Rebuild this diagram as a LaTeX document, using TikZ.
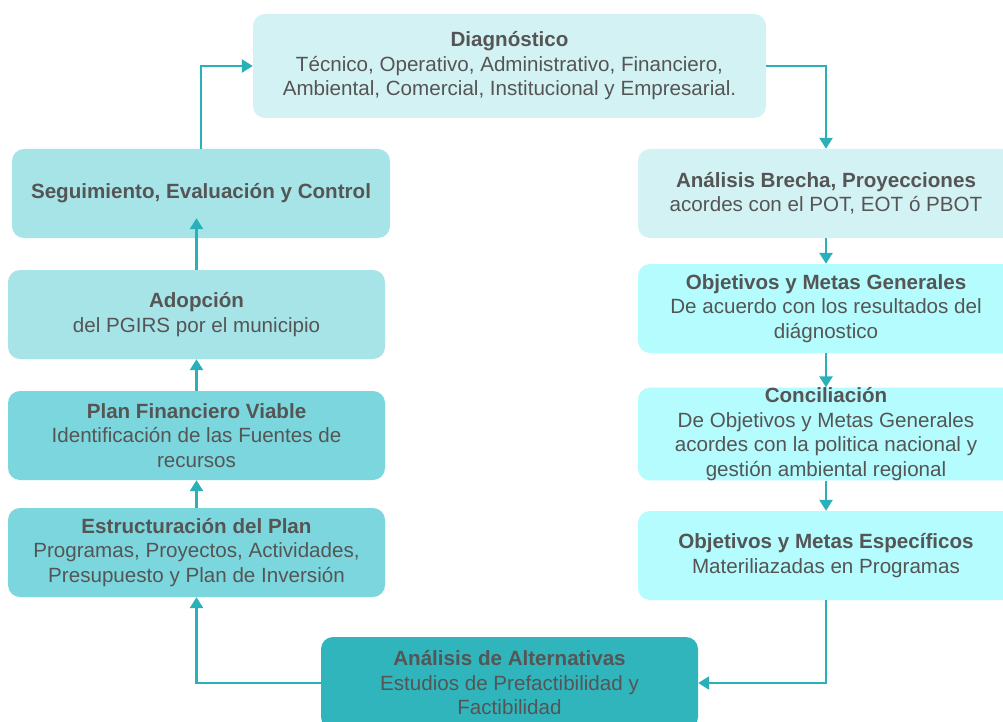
\documentclass[tikz,border=0pt]{standalone}
\usepackage{fontspec}
\setmainfont{Liberation Sans}
\usetikzlibrary{arrows.meta}
\definecolor{txt}{HTML}{555555}
\definecolor{cA}{HTML}{D3F2F4}
\definecolor{cB}{HTML}{A7E4E8}
\definecolor{cC}{HTML}{7BD7DD}
\definecolor{cD}{HTML}{B4FCFD}
\definecolor{cE}{HTML}{30B5BD}
\definecolor{arr}{HTML}{2AB0B8}
\tikzset{
  box/.style={rectangle, rounded corners=12pt, draw=none, align=center,
    text=txt, font=\fontsize{20.6}{24.5}\selectfont, inner sep=0pt},
  conn/.style={draw=arr, line width=2.5pt, -{Triangle[width=13pt,length=11pt]}},
}
\begin{document}
\begin{tikzpicture}[x=1pt,y=-1pt]
\useasboundingbox (0,0) rectangle (1003,722);
\fill[white] (0,0) rectangle (1003,722);
% boxes
\node[box, fill=cA, minimum width=513pt, minimum height=104pt] (diag) at (509.5,66)
  {\textbf{Diagnóstico}\\Técnico, Operativo, Administrativo, Financiero,\\Ambiental, Comercial, Institucional y Empresarial.};
\node[box, fill=cB, minimum width=378pt, minimum height=89pt] (seg) at (201,193.5)
  {\textbf{Seguimiento, Evaluación y Control}};
\node[box, fill=cB, minimum width=377pt, minimum height=89pt] (adop) at (196.5,314.5)
  {\textbf{Adopción}\\del PGIRS por el municipio};
\node[box, fill=cC, minimum width=377pt, minimum height=89pt] (pf) at (196.5,435.5)
  {\textbf{Plan Financiero Viable}\\Identificación de las Fuentes de\\recursos};
\node[box, fill=cC, minimum width=377pt, minimum height=89pt] (est) at (196.5,552.5)
  {\textbf{Estructuración del Plan}\\Programas, Proyectos, Actividades,\\Presupuesto y Plan de Inversión};
\node[box, fill=cA, minimum width=376pt, minimum height=89pt] (brecha) at (826,193.5)
  {\textbf{Análisis Brecha, Proyecciones}\\acordes con el POT, EOT ó PBOT};
\node[box, fill=cD, minimum width=376pt, minimum height=89pt] (gen) at (826,308.5)
  {\textbf{Objetivos y Metas Generales}\\De acuerdo con los resultados del\\diágnostico};
\node[box, fill=cD, minimum width=376pt, minimum height=88pt] (conc) at (826,434)
  {\textbf{Conciliación}\\De Objetivos y Metas Generales\\acordes con la politica nacional y\\gestión ambiental regional};
\node[box, fill=cD, minimum width=376pt, minimum height=89pt] (esp) at (826,555.5)
  {\textbf{Objetivos y Metas Específicos}\\Materiliazadas en Programas};
\node[box, fill=cE, minimum width=377pt, minimum height=92pt] (alt) at (509.5,683)
  {\textbf{Análisis de Alternativas}\\Estudios de Prefactibilidad y\\Factibilidad};
% connectors
\path (seg.south) ++(0,-20) coordinate (segin);
\draw[conn] (seg.north) |- (diag.west);
\draw[conn] (diag.east) -| (brecha.north);
\draw[conn] (brecha.south) -- (gen.north);
\draw[conn] (gen.south) -- (conc.north);
\draw[conn] (conc.south) -- (esp.north);
\draw[conn] (esp.south) |- (alt.east);
\draw[conn] (alt.west) -| (est.south);
\draw[conn] (est.north) -- (pf.south);
\draw[conn] (pf.north) -- (adop.south);
\draw[conn] (adop.north) -- (adop.north |- segin);
\end{tikzpicture}
\end{document}
